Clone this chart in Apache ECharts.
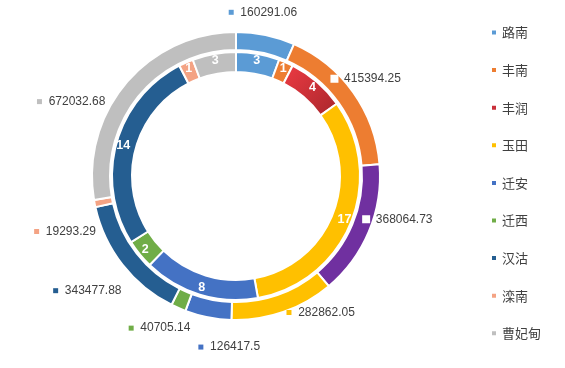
<!DOCTYPE html>
<html><head><meta charset="utf-8">
<script src="https://cdn.jsdelivr.net/npm/echarts@6/dist/echarts.min.js"></script>
<style>html,body{margin:0;padding:0;background:#fff}#c{width:565px;height:368px}</style>
</head><body><div id="c"></div>
<script>
const categories = ['路南','丰南','丰润','玉田','迁安','迁西','汉沽','滦南','曹妃甸'];
const innerValues = [3, 1, 4, 17, 8, 2, 14, 1, 3];
const outerValues = [160291.06, 415394.25, 368064.73, 282862.05, 126417.5, 40705.14, 343477.88, 19293.29, 672032.68];
const innerColors = ['#5B9BD5','#ED7D31',
  {type:'linear',x:0,y:0,x2:1,y2:1,colorStops:[{offset:0,color:'#EE3B43'},{offset:1,color:'#A8262C'}]},
  '#FFC000','#4472C4','#70AD47','#255E91','#F4A384','#BFBFBF'];
const legendColors = ['#5B9BD5','#ED7D31','#C9303A','#FFC000','#4472C4','#70AD47','#255E91','#F4A384','#BFBFBF'];
const outerColors = ['#5B9BD5','#ED7D31','#7030A0','#FFC000','#4472C4','#70AD47','#255E91','#F4A384','#BFBFBF'];
const outerLabelShift = [[-44,-13],[-35,-8],[-20,-16],[-5,-9],[59,20],[21,11],[12,20],[16,26],[-8,25]];
const keyOnRing = [false,true,true,false,false,false,false,false,false];

const chart = echarts.init(document.getElementById('c'), null, {renderer:'canvas'});
const font = '"Liberation Sans","Noto Sans CJK SC",sans-serif';
chart.setOption({
  animation:false,
  backgroundColor:'#fff',
  legend:{
    orient:'vertical', left:485, top:21, itemGap:24.6, itemWidth:6, itemHeight:6, icon:'rect', itemTextGap:2,
    textStyle:{fontSize:13, color:'#404040', fontFamily:'"Noto Sans CJK SC",sans-serif'},
    data: categories.map((n,i)=>({name:n, itemStyle:{color:legendColors[i]}}))
  },
  series:[
    {
      type:'pie', name:'inner', center:[236,176], radius:[104,124], startAngle:90, clockwise:true,
      avoidLabelOverlap:false, silent:true,
      itemStyle:{borderColor:'#fff', borderWidth:2},
      label:{show:true, position:'inside', color:'#fff', fontWeight:'bold', fontSize:12.5, fontFamily:font, formatter:'{c}'},
      labelLine:{show:false},
      data: categories.map((n,i)=>({name:n, value:innerValues[i], itemStyle:{color:innerColors[i]}}))
    },
    {
      type:'pie', name:'outer', center:[236,176], radius:[126,144], startAngle:90, clockwise:true,
      avoidLabelOverlap:false, silent:true,
      itemStyle:{borderColor:'#fff', borderWidth:2},
      label:{show:true, position:'outside', fontSize:12, color:'#404040', fontFamily:font,
        formatter:function(p){return '{k|}  ' + p.value;},
        rich:{k:{width:5,height:5}}
      },
      labelLine:{show:false, length:10, length2:0},
      labelLayout:function(p){ const s = outerLabelShift[p.dataIndex]; return {dx:s[0], dy:s[1]}; },
      data: categories.map((n,i)=>({name:n, value:outerValues[i], itemStyle:{color:outerColors[i]},
        label:{rich:{k: keyOnRing[i]
          ? {width:6,height:6,backgroundColor:'#fff',borderColor:'#fff',borderWidth:1}
          : {width:5,height:5,backgroundColor:outerColors[i]}}}}))
    }
  ]
});
</script></body></html>
